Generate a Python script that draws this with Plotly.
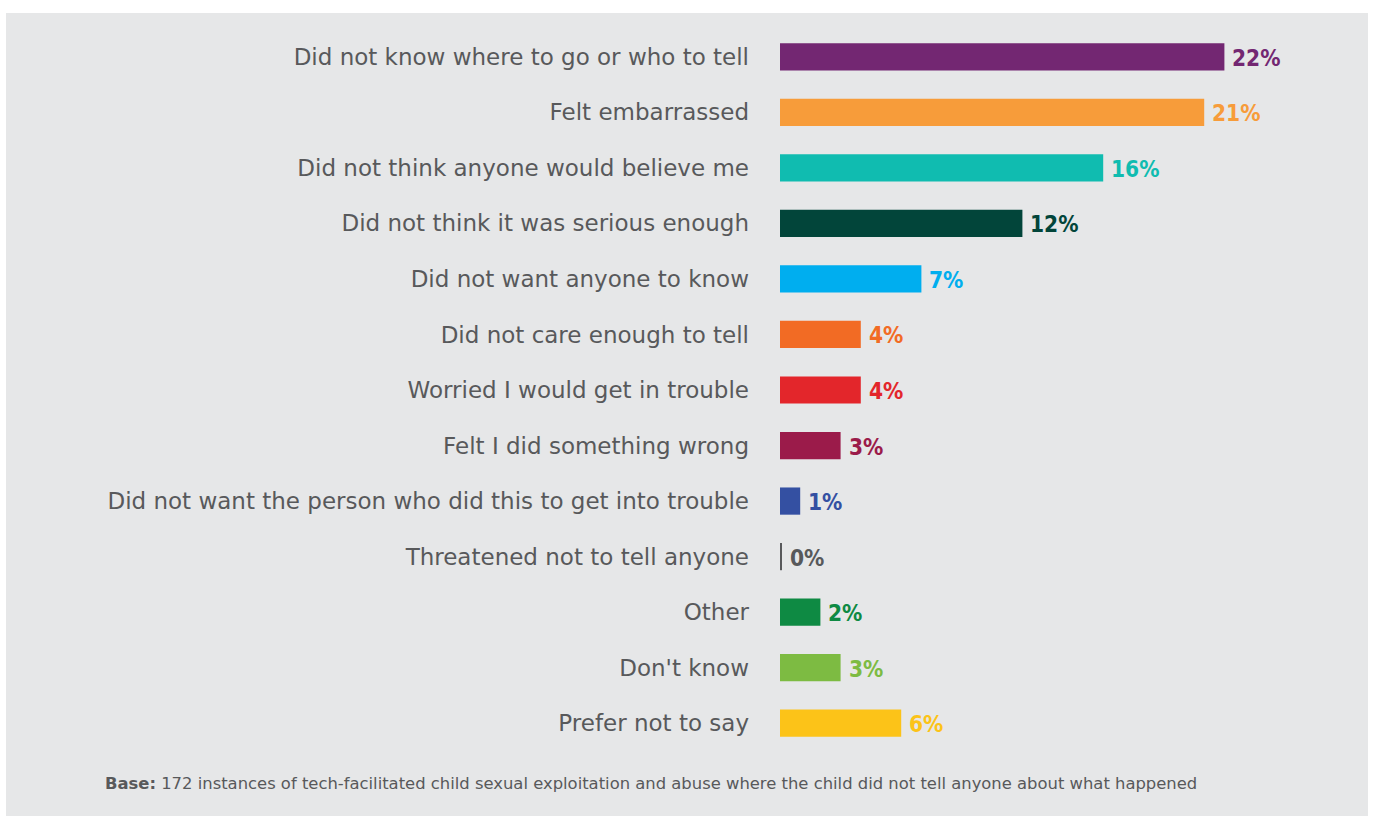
import plotly.graph_objects as go

categories = [
    "Did not know where to go or who to tell",
    "Felt embarrassed",
    "Did not think anyone would believe me",
    "Did not think it was serious enough",
    "Did not want anyone to know",
    "Did not care enough to tell",
    "Worried I would get in trouble",
    "Felt I did something wrong",
    "Did not want the person who did this to get into trouble",
    "Threatened not to tell anyone",
    "Other",
    "Don't know",
    "Prefer not to say",
]
values = [22, 21, 16, 12, 7, 4, 4, 3, 1, 0.1, 2, 3, 6]
value_labels = ["22%", "21%", "16%", "12%", "7%", "4%", "4%", "3%", "1%", "0%", "2%", "3%", "6%"]
colors = ["#732772", "#f79c3a", "#10bcb0", "#02453a", "#00aeef", "#f26b24",
          "#e3262b", "#9b1b4a", "#3450a2", "#58595b", "#0e8a43", "#7dbb42", "#fcc318"]

footnote_bold = "Base:"
footnote_text = "172 instances of tech-facilitated child sexual exploitation and abuse where the child did not tell anyone about what happened"

W, H = 1373, 816
ml, mr, mt, mb = 780, 5, 29, 65
pw = W - ml - mr
ph = H - mt - mb

fig = go.Figure()
fig.add_trace(go.Bar(
    y=categories, x=values, orientation="h",
    marker=dict(color=colors, line=dict(width=0)),
    width=0.49, hoverinfo="skip",
))

for c, v, lab, col in zip(categories, values, value_labels, colors):
    fig.add_annotation(x=v, y=c, text=lab, showarrow=False, xanchor="left",
                       xshift=6, yshift=-1,
                       font=dict(family="DejaVu Sans Condensed, sans-serif",
                                 size=22.5, color=col, weight="bold"))

def px_to_paper_x(px):
    return (px - ml) / pw

def px_to_paper_y(py):
    return (H - mb - py) / ph

fig.add_shape(type="rect", xref="paper", yref="paper",
              x0=px_to_paper_x(6), x1=px_to_paper_x(1368),
              y0=px_to_paper_y(816), y1=px_to_paper_y(13),
              fillcolor="#e6e7e8", line=dict(width=0), layer="below")

fig.add_annotation(xref="paper", yref="paper",
                   x=px_to_paper_x(103), y=px_to_paper_y(784),
                   xanchor="left", yanchor="middle", showarrow=False,
                   text=f"<b>{footnote_bold}</b> {footnote_text}",
                   font=dict(family="DejaVu Sans, sans-serif", size=16.4, color="#58595b"))

fig.update_layout(
    width=W, height=H,
    margin=dict(l=ml, r=mr, t=mt, b=mb),
    paper_bgcolor="white", plot_bgcolor="rgba(0,0,0,0)",
    showlegend=False,
    xaxis=dict(range=[0, pw / 20.2], visible=False, fixedrange=True),
    yaxis=dict(autorange="reversed", showgrid=False, showline=False, zeroline=False,
               ticks="", ticklabelstandoff=30,
               tickfont=dict(family="DejaVu Sans, sans-serif", size=23, color="#58595b")),
)

fig.write_html("out.html")
